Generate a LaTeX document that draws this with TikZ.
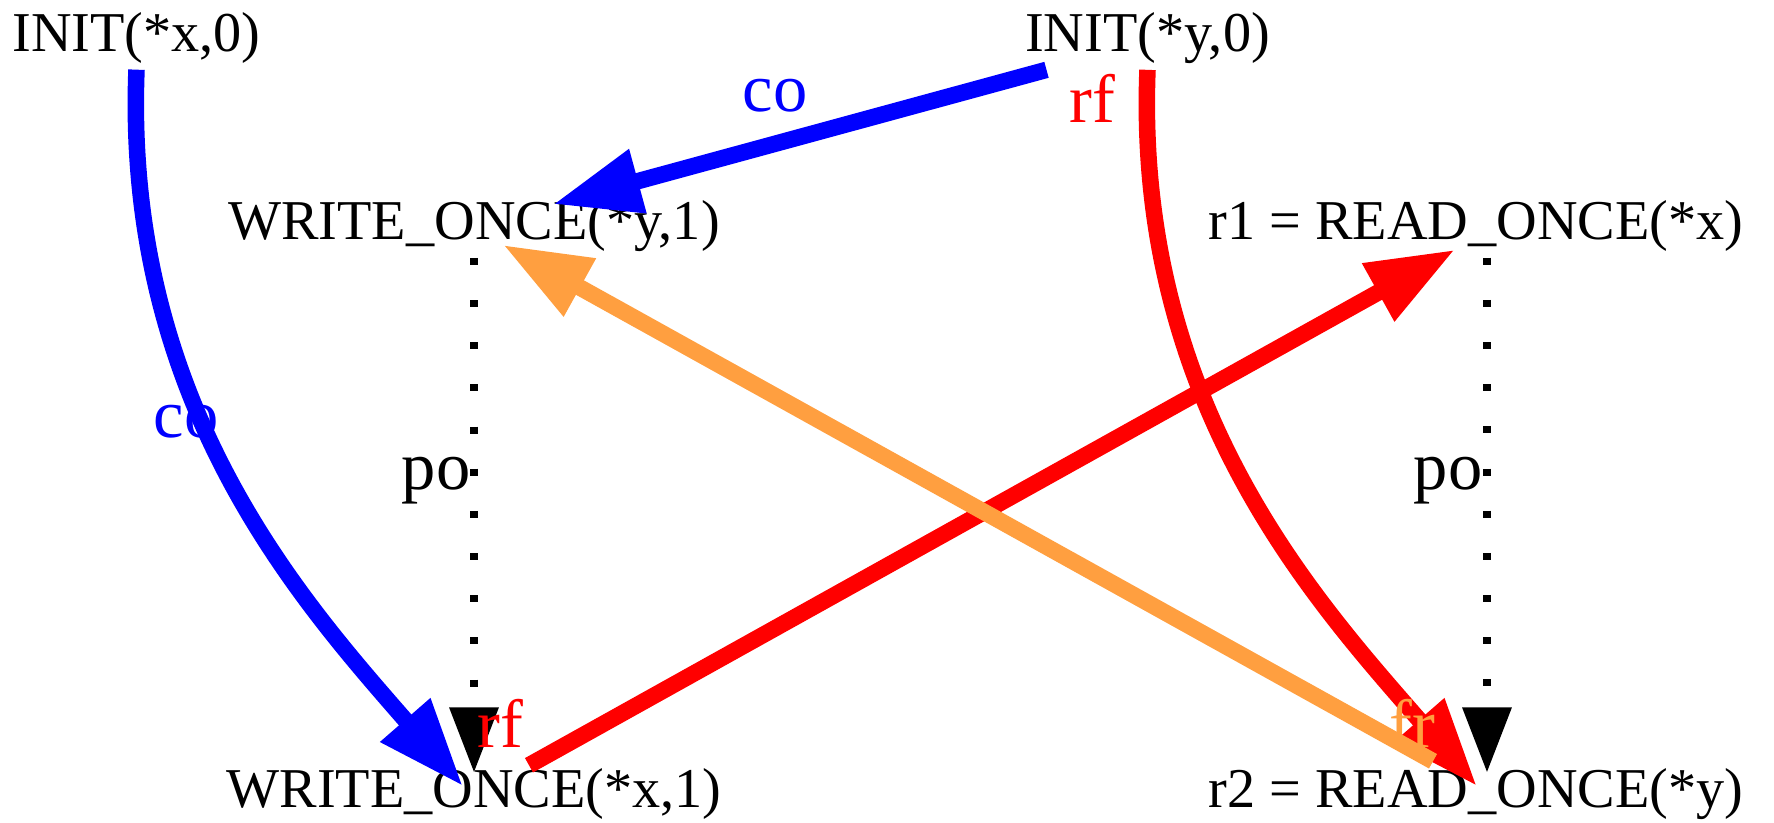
\documentclass[tikz,border=0pt]{standalone}
\usepackage{fontspec}
\setmainfont{Liberation Serif}
\usetikzlibrary{arrows.meta, positioning, calc}
\definecolor{coblue}{HTML}{0000FF}
\definecolor{rfred}{HTML}{FF0000}
\definecolor{frorange}{HTML}{FF9F40}

\begin{document}
\begin{tikzpicture}[
  >={Triangle[length=8.8mm, width=6.2mm]},
  evt/.style={inner sep=0.5mm, anchor=base,
    font=\fontsize{16}{19}\selectfont, text=black},
  lbl/.style={inner sep=0pt, anchor=base,
    font=\fontsize{19.5}{23}\selectfont},
  rel/.style={->, line width=4.7pt},
  pord/.style={-{Triangle[length=6.5mm, width=4.8mm]}, line width=2pt,
    dash pattern=on 2pt off 10pt},
]

% Canvas
\useasboundingbox (0,0) rectangle (17.74,8.22);

% === Events ===
\node[evt] (ix) at (1.365,7.70) {INIT(*x,0)};
\node[evt] (iy) at (11.475,7.70) {INIT(*y,0)};
\node[evt] (wy) at (4.74,5.82) {WRITE\_ONCE(*y,1)};
\node[evt] (r1) at (14.76,5.82) {r1 = READ\_ONCE(*x)};
\node[evt] (wx) at (4.74,0.14) {WRITE\_ONCE(*x,1)};
\node[evt] (r2) at (14.76,0.14) {r2 = READ\_ONCE(*y)};

% === Program order (dotted) ===
\draw[pord] (wy.south) -- ([yshift=-0.9mm]wx.north);
\draw[pord] ([xshift=1.1mm]r1.south) -- ([xshift=1.1mm, yshift=-0.9mm]r2.north);

% ============================================================
% Coherence (blue)
% ============================================================
\draw[rel, coblue] (ix.south)
  .. controls +(-0.13,-3.33) and +(-1.63,1.87) ..
  ([xshift=-1.1mm, yshift=-2.3mm]wx.north);
\draw[rel, coblue] ([xshift=-10.1mm]iy.south)
  -- ([xshift=7.9mm, yshift=-0.9mm]wy.north);

% ============================================================
% Reads-from (red)
% ============================================================
\draw[rel, rfred] (iy.south)
  .. controls +(-0.13,-3.33) and +(-1.63,1.87) ..
  ([xshift=0.1mm, yshift=-2.3mm]r2.north);
\draw[rel, rfred] ([xshift=5.5mm, yshift=-0.2mm]wx.north)
  -- ([xshift=-2.1mm, yshift=0.8mm]r1.south);

% === From-read (orange) ===
\draw[rel, frorange] ([xshift=-4.3mm, yshift=0.2mm]r2.north)
  -- ([xshift=2.9mm, yshift=1.3mm]wy.south);

% === Edge labels ===
\node[lbl, text=coblue] (lco1) at (1.86,3.85) {co};
\node[lbl, text=coblue] (lco2) at (7.75,7.10) {co};
\node[lbl, text=rfred] (lrf1) at (10.92,6.99) {rf};
\node[lbl, text=rfred] (lrf2) at (5.00,0.74) {rf};
\node[lbl, text=frorange] (lfr) at (14.12,0.75) {fr};
\node[lbl] (lpo1) at (4.36,3.32) {po};
\node[lbl] (lpo2) at (14.48,3.32) {po};

\end{tikzpicture}
\end{document}
